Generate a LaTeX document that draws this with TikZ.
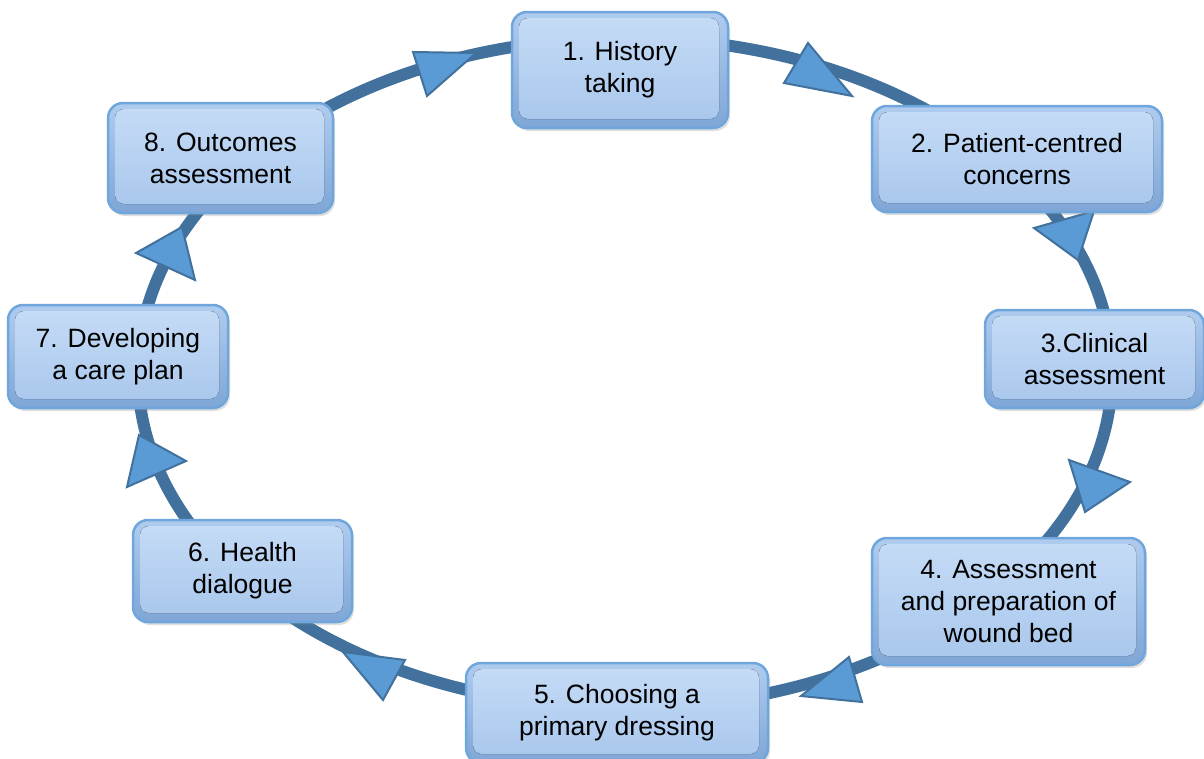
\documentclass[tikz,border=0pt]{standalone}
\usepackage{fontspec}
\setmainfont{Liberation Sans}
\usetikzlibrary{shadows}

\definecolor{ringblue}{HTML}{41719C}
\definecolor{tipblue}{HTML}{5B9BD5}
\definecolor{rimblue}{HTML}{6FA6DC}
\definecolor{frametop}{HTML}{AFCCEF}
\definecolor{framebot}{HTML}{7FA6D6}
\definecolor{facetop}{HTML}{C6DCF6}
\definecolor{facebot}{HTML}{A7C6EC}

\tikzset{
  stepbox/.style={
    rounded corners=15pt, draw=rimblue, line width=2.5pt,
    top color=frametop, bottom color=framebot,
    align=center, inner sep=0pt,
    font=\fontsize{26.5}{32}\selectfont,
    drop shadow={shadow xshift=2pt, shadow yshift=-3pt, opacity=0.25, fill=gray},
    path picture={
      \fill[top color=facetop, bottom color=facebot, rounded corners=9pt]
        ([shift={(7pt,-6pt)}]path picture bounding box.north west) rectangle
        ([shift={(-9pt,9pt)}]path picture bounding box.south east);
    }
  },
  ring/.style={draw=ringblue, line width=12pt},
  tri/.style={fill=tipblue, draw=ringblue, line width=2pt, line join=miter}
}

\begin{document}
\begin{tikzpicture}[x=1pt, y=-1pt]
\useasboundingbox (0,0) rectangle (1204,758);

% the cycle ring
\draw[ring] (625,373) ellipse [x radius=487pt, y radius=335pt];

% direction marks along the ring
\draw[tri] (413,52) -- (476,53) -- (427,96) -- cycle;
\draw[tri] (808,43) -- (784,83) -- (852,96) -- cycle;
\draw[tri] (1034,228) -- (1094,211) -- (1078,260) -- cycle;
\draw[tri] (1069,460) -- (1130,482) -- (1085,512) -- cycle;
\draw[tri] (849,657) -- (862,702) -- (801,696) -- cycle;
\draw[tri] (343,652) -- (405,660) -- (383,700) -- cycle;
\draw[tri] (139,435) -- (186,461) -- (127,487) -- cycle;
\draw[tri] (182,227) -- (195,280) -- (136,253) -- cycle;

% the eight steps
\node[stepbox, minimum width=216pt, minimum height=116pt] (s1) at (620,70)
  {1. History\\taking};
\node[stepbox, minimum width=290pt, minimum height=106pt] (s2) at (1017,159)
  {2. Patient-centred\\concerns};
\node[stepbox, minimum width=219pt, minimum height=98pt] (s3) at (1094.5,359)
  {3.Clinical\\assessment};
\node[stepbox, minimum width=273pt, minimum height=127pt] (s4) at (1008.5,601.5)
  {4. Assessment\\and preparation of\\wound bed};
\node[stepbox, minimum width=302pt, minimum height=100pt] (s5) at (617,713)
  {5. Choosing a\\primary dressing};
\node[stepbox, minimum width=219pt, minimum height=102pt] (s6) at (242.5,571)
  {6. Health\\dialogue};
\node[stepbox, minimum width=220pt, minimum height=103pt] (s7) at (118,356.5)
  {7. Developing\\a care plan};
\node[stepbox, minimum width=225pt, minimum height=110pt] (s8) at (220.5,158)
  {8. Outcomes\\assessment};
\end{tikzpicture}
\end{document}
